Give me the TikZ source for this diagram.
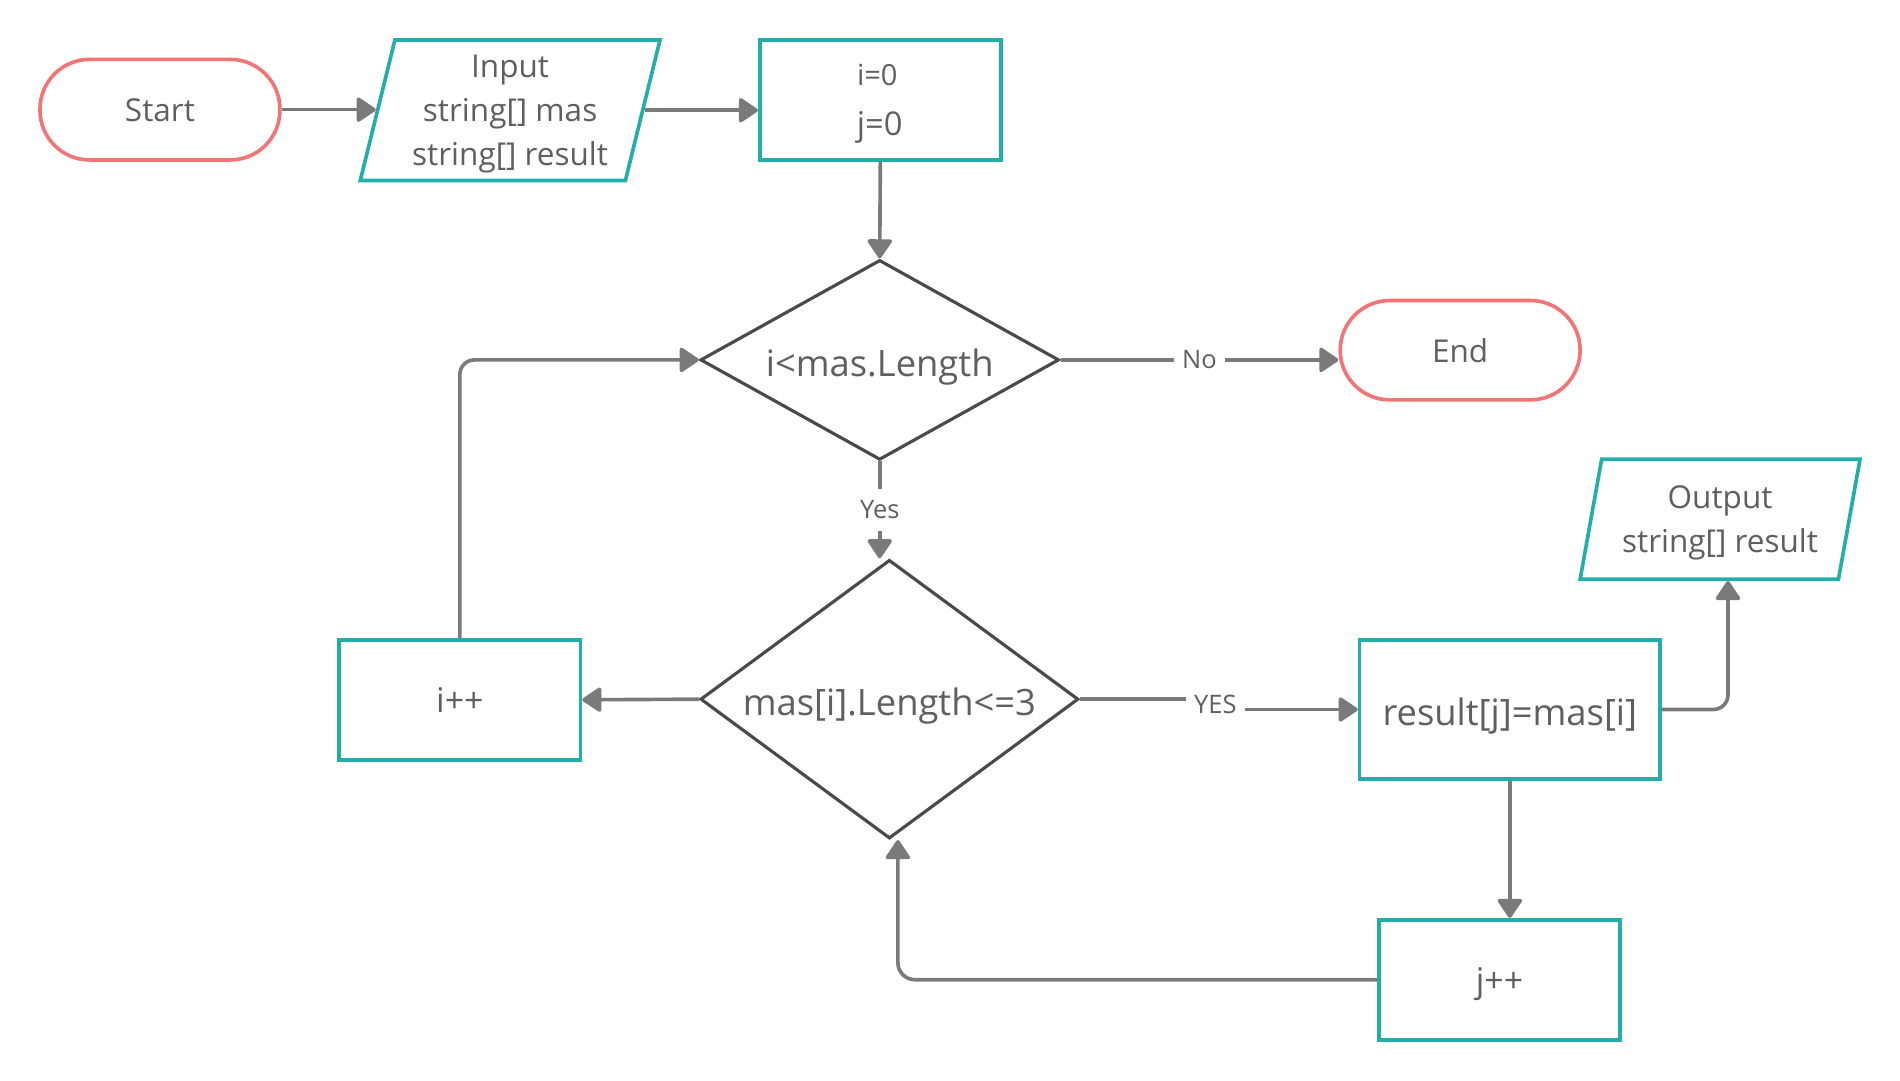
\documentclass[tikz,border=0pt]{standalone}
\usepackage{fontspec}
\setmainfont{Open Sans}
\usetikzlibrary{shapes.geometric,arrows.meta}
\definecolor{tealc}{HTML}{22AFAA}
\definecolor{salmonc}{HTML}{F27474}
\definecolor{diac}{HTML}{4A4A4A}
\definecolor{connc}{HTML}{7A7A7A}
\definecolor{txtc}{HTML}{5F5F5F}
\begin{document}
\begin{tikzpicture}[x=1pt,y=-1pt,
  term/.style={draw=salmonc, line width=3pt, rounded corners=41pt, minimum width=198pt, minimum height=83pt, inner sep=0pt, text=txtc, text depth=0pt, font=\fontsize{26}{30}\selectfont},
  proc/.style={draw=tealc, line width=3pt, minimum width=199pt, minimum height=99pt, inner sep=0pt, text=txtc, text depth=0pt, font=\fontsize{28}{32}\selectfont},
  io/.style={draw=tealc, line width=3pt, trapezium, trapezium left angle=75, trapezium right angle=105, trapezium stretches=true, inner sep=0pt, text=txtc, text depth=0pt, align=center, font=\fontsize{26}{36}\selectfont},
  dia/.style={draw=diac, line width=2.6pt, diamond, inner sep=0pt},
  dtext/.style={text=txtc, text depth=0pt, font=\fontsize{30}{34}\selectfont, inner sep=0pt},
  conn/.style={draw=connc, line width=3pt, -{Triangle[length=17pt,width=22pt,round]}},
  lab/.style={fill=white, text=txtc, font=\fontsize{21}{24}\selectfont, inner xsep=7pt, inner ysep=10pt}
]
\useasboundingbox[fill=white] (0,0) rectangle (1568,891.3);

\node[term] (start) at (132,90.5) {Start};
\node[io, minimum width=248pt, minimum height=116pt] (inp) at (421,91) {Input\\string[] mas\\string[] result};
\node[proc] (ij) at (726.5,82.5) {};
\node[text=txtc, text depth=0pt, font=\fontsize{24}{28}\selectfont, inner sep=0pt] (ijt1) at (724,62) {i=0};
\node[text=txtc, text depth=0pt, font=\fontsize{27}{30}\selectfont, inner sep=0pt] (ijt2) at (726,102) {j=0};

\node[dia, minimum width=296pt, minimum height=165pt] (d1) at (726,297) {};
\node[dtext] (d1t) at ([yshift=-2pt]d1.center) {i<mas.Length};

\node[term, minimum height=82pt] (endn) at (1205,289) {End};

\node[dia, minimum width=312pt, minimum height=230pt] (d2) at (734,577) {};
\node[dtext] (d2t) at ([yshift=-2pt]d2.center) {mas[i].Length<=3};

\node[proc] (ipp) at (379.5,577.5) {i++};
\node[proc, minimum width=248pt, minimum height=115pt, text height=27pt, font=\fontsize{30}{34}\selectfont] (res) at (1246,585.5) {result[j]=mas[i]};
\node[io, minimum width=231pt, minimum height=99pt] (out) at (1419.5,428.5) {Output\\string[] result};
\node[proc] (jpp) at (1237.5,808.5) {j++};

\draw[conn] (start.east) -- (start.east -| inp.west);
\draw[conn] (inp.east) -- (inp.east -| ij.west);
\draw[conn] (ij.south) -- (d1.north);
\draw[conn] (d1.east) -- node[lab] {No} (d1.east -| endn.west);
\draw[conn] (d1.south) -- node[lab] {Yes} (d1.south |- d2.north);
\draw[conn] (d2.west) -- (ipp.east);
\draw[conn, rounded corners=12pt] (ipp.north) |- (d1.west);
\coordinate (yj) at (1003,581);
\draw[conn] (d2.east) -- (d2.east -| yj) -- (res.west -| yj) -- (res.west);
\node[lab] (yjl) at (yj) {YES};
\draw[conn, rounded corners=12pt] (res.east) -| ([xshift=6.5pt]out.south);
\draw[conn] (res.south) -- (res.south |- jpp.north);
\draw[conn, rounded corners=14pt] (jpp.west) -| ([xshift=7pt]d2.south);
\end{tikzpicture}
\end{document}
